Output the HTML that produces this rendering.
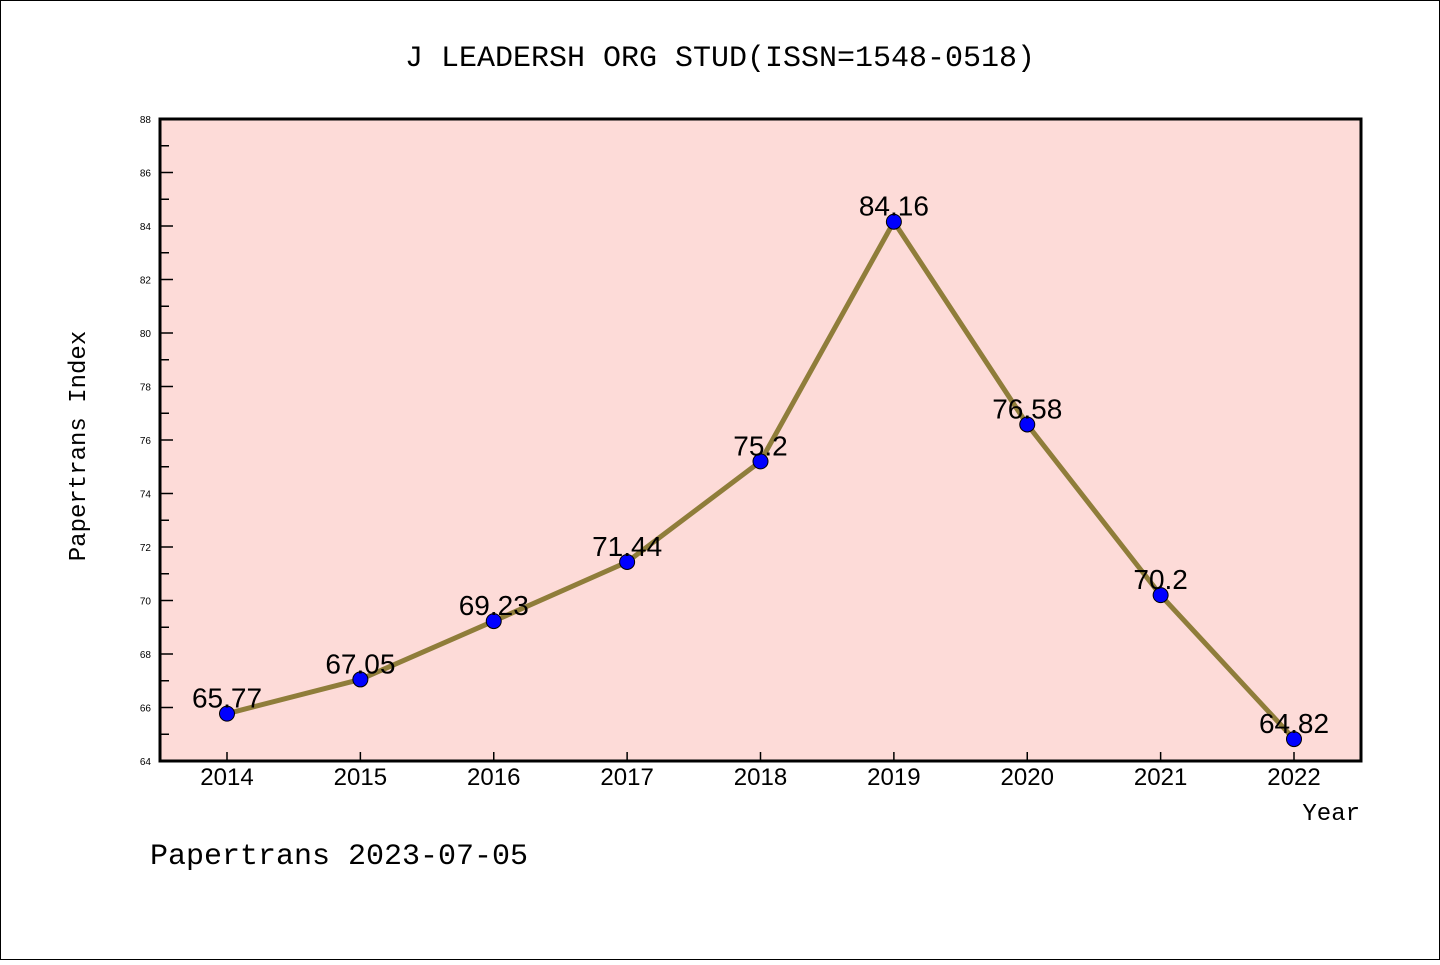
<!DOCTYPE html>
<html><head><meta charset="utf-8"><style>
body{margin:0;background:#fff;font-family:"Liberation Sans","Noto Sans CJK SC",sans-serif;}
</style></head><body>
<svg width="1440" height="960" xmlns="http://www.w3.org/2000/svg">
<rect x="0.5" y="0.5" width="1439" height="959" fill="#fff" stroke="#000"/>
<text x="720" y="66" text-anchor="middle" font-size="30" font-family="Liberation Mono, monospace">J LEADERSH ORG STUD(ISSN=1548-0518)</text>
<rect x="160" y="119" width="1201" height="642" fill="#fddbd8"/>
<g id="axes"></g>
<g id="marks"></g>
<rect x="160" y="119" width="1201" height="642" fill="none" stroke="#000" stroke-width="3"/>
<text x="85" y="446" text-anchor="middle" font-size="24" font-family="Liberation Mono, monospace" transform="rotate(-90 85 446)">Papertrans Index</text>
<text x="1360" y="820" text-anchor="end" font-size="24" font-family="Liberation Mono, monospace">Year</text>
<text x="150" y="864" font-size="30" font-family="Liberation Mono, monospace">Papertrans 2023-07-05</text>
</svg>
<script>
const years=["2014","2015","2016","2017","2018","2019","2020","2021","2022"];
const values=[65.77,67.05,69.23,71.44,75.2,84.16,76.58,70.2,64.82];
const labels=["65.77","67.05","69.23","71.44","75.2","84.16","76.58","70.2","64.82"];
const yTicks=[64,66,68,70,72,74,76,78,80,82,84,86,88];
(function(){
const NS="http://www.w3.org/2000/svg";
const yMin=64,yMax=88,yTop=119,yBot=761;
const x=i=>227+i*(1294-227)/(years.length-1);
const y=v=>yBot-(v-yMin)/(yMax-yMin)*(yBot-yTop);
function mk(t,a,p){const e=document.createElementNS(NS,t);for(const k in a)e.setAttribute(k,a[k]);p.appendChild(e);return e;}
const ax=document.getElementById('axes'),mg=document.getElementById('marks');
yTicks.forEach((v,i)=>{
 const l=mk('line',{x1:160,x2:173,y1:y(v),y2:y(v),stroke:'#000','stroke-width':1.5},ax);
 
 
 const t=mk('text',{x:151,y:y(v)+4,'text-anchor':'end','font-size':10},ax);
 t.textContent=v;
 
 
 if(i<yTicks.length-1){const m=mk('line',{x1:160,x2:169,y1:y(v+1),y2:y(v+1),stroke:'#000','stroke-width':1.5},ax);
 
 }
});
years.forEach((yr,i)=>{
 const l=mk('line',{x1:x(i),x2:x(i),y1:yBot,y2:yBot-9,stroke:'#000','stroke-width':1.5},ax);
 
 
 const t=mk('text',{x:x(i),y:785,'text-anchor':'middle','font-size':24},ax);
 t.textContent=yr;
 
 
});
const pl=mk('polyline',{points:values.map((v,i)=>x(i)+','+y(v)).join(' '),fill:'none',stroke:'#8f7d3a','stroke-width':5,'stroke-linejoin':'round'},mg);


values.forEach((v,i)=>{
 const c=mk('circle',{cx:x(i),cy:y(v),r:7.5,fill:'#0000ff',stroke:'#000','stroke-width':1},mg);
 
 
 const t=mk('text',{x:x(i),y:y(v)-6,'text-anchor':'middle','font-size':28},mg);
 t.textContent=labels[i];
 
 
});
})();
</script>
</body></html>
